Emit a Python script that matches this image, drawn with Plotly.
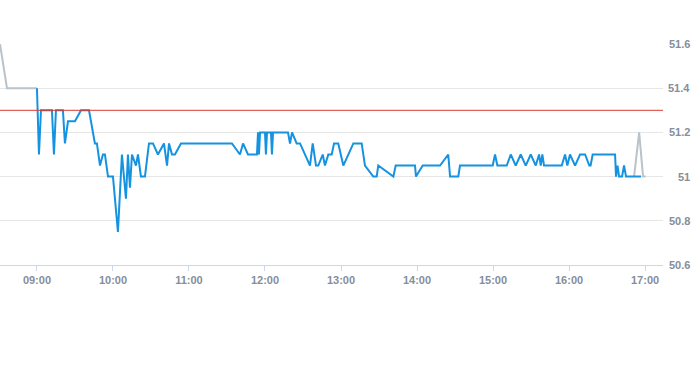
import plotly.graph_objects as go

DAY = "2024-01-02 "

pre_times = ["08:30:50", "08:36:20", "09:00:00"]
pre_values = [51.6, 51.4, 51.4]

main_times = [
    "09:00:00", "09:01:35", "09:03:10", "09:11:50", "09:13:25", "09:15:00", "09:20:30", "09:22:05",
    "09:24:30", "09:30:00", "09:34:45", "09:41:05", "09:45:45", "09:47:20", "09:49:45", "09:52:05",
    "09:53:40", "09:56:05", "10:00:00", "10:01:35", "10:03:55", "10:07:05", "10:10:15", "10:11:50",
    "10:13:25", "10:15:00", "10:18:10", "10:19:45", "10:22:05", "10:25:15", "10:28:25", "10:31:35",
    "10:35:30", "10:40:15", "10:42:40", "10:44:15", "10:46:35", "10:48:55", "10:53:40", "11:33:55",
    "11:40:15", "11:42:40", "11:46:35", "11:53:40", "11:54:30", "11:55:15", "11:56:05", "12:00:00",
    "12:00:45", "12:01:35", "12:04:45", "12:05:30", "12:06:20", "12:18:10", "12:19:45", "12:21:20",
    "12:25:00", "12:27:40", "12:35:30", "12:37:40", "12:40:15", "12:42:05", "12:45:35", "12:47:20",
    "12:50:00", "12:52:40", "12:54:30", "12:57:50", "13:01:50", "13:09:45", "13:16:20", "13:18:55",
    "13:25:30", "13:28:10", "13:29:25", "13:41:20", "13:43:10", "13:58:25", "13:59:10", "14:04:30",
    "14:18:10", "14:24:40", "14:26:05", "14:32:35", "14:33:55", "14:59:45", "15:01:35", "15:03:25",
    "15:10:50", "15:14:00", "15:17:55", "15:21:50", "15:25:50", "15:29:45", "15:33:45", "15:36:20",
    "15:37:40", "15:38:55", "15:40:15", "15:54:15", "15:56:50", "15:58:40", "16:00:45", "16:04:45",
    "16:08:40", "16:12:40", "16:16:00", "16:17:00", "16:18:40", "16:36:20", "16:37:05", "16:38:15",
    "16:39:30", "16:41:50", "16:43:25", "16:45:00", "16:56:50",
]
main_values = [
    51.4, 51.1, 51.3, 51.3, 51.1, 51.3, 51.3, 51.15,
    51.25, 51.25, 51.3, 51.3, 51.15, 51.15, 51.05, 51.1,
    51.1, 51.0, 51.0, 50.9, 50.75, 51.1, 50.9, 51.1,
    50.95, 51.1, 51.05, 51.1, 51.0, 51.0, 51.15, 51.15,
    51.1, 51.15, 51.05, 51.15, 51.1, 51.1, 51.15, 51.15,
    51.1, 51.15, 51.1, 51.1, 51.2, 51.1, 51.2, 51.2,
    51.1, 51.2, 51.2, 51.1, 51.2, 51.2, 51.15, 51.2,
    51.15, 51.15, 51.05, 51.15, 51.05, 51.05, 51.1, 51.05,
    51.1, 51.1, 51.15, 51.15, 51.05, 51.15, 51.15, 51.05,
    51.0, 51.0, 51.05, 51.0, 51.05, 51.05, 51.0, 51.05,
    51.05, 51.1, 51.0, 51.0, 51.05, 51.05, 51.1, 51.05,
    51.05, 51.1, 51.05, 51.1, 51.05, 51.1, 51.05, 51.1,
    51.05, 51.1, 51.05, 51.05, 51.1, 51.05, 51.1, 51.05,
    51.1, 51.1, 51.05, 51.05, 51.1, 51.1, 51.0, 51.05,
    51.0, 51.0, 51.05, 51.0, 51.0,
]

post_times = ["16:51:20", "16:55:20", "16:58:25", "17:00:25"]
post_values = [51.0, 51.2, 51.0, 51.0]

reference_level = 51.3

x_ticks = ["09:00", "10:00", "11:00", "12:00", "13:00", "14:00", "15:00", "16:00", "17:00"]
y_ticks = [50.6, 50.8, 51.0, 51.2, 51.4, 51.6]
y_tick_labels = ["50.6", "50.8", "51", "51.2", "51.4", "51.6"]

x_range = ["08:30:50", "17:14:10"]

LABEL_COLOR = "#858e9b"
FONT = "Liberation Sans"

fig = go.Figure()
fig.add_trace(go.Scatter(
    x=[DAY + t for t in pre_times], y=pre_values, mode="lines",
    line=dict(color="#b9c3cc", width=2), hoverinfo="skip", showlegend=False))
fig.add_trace(go.Scatter(
    x=[DAY + t for t in post_times], y=post_values, mode="lines",
    line=dict(color="#b9c3cc", width=2), hoverinfo="skip", showlegend=False))
fig.add_trace(go.Scatter(
    x=[DAY + t for t in main_times], y=main_values, mode="lines",
    line=dict(color="#1592e0", width=2), showlegend=False))

fig.add_shape(type="line", xref="paper", x0=0, x1=1, yref="y",
              y0=reference_level, y1=reference_level,
              line=dict(color="#d93a2f", width=1))

for v, lab in zip(y_ticks, y_tick_labels):
    fig.add_annotation(x=1, xref="paper", y=v, yref="y", text=lab,
                       xanchor="right", yanchor="middle", xshift=29,
                       showarrow=False,
                       font=dict(family=FONT, size=11, color=LABEL_COLOR, weight="bold"))

fig.update_layout(
    width=693, height=365,
    margin=dict(l=0, r=30, t=44, b=100),
    paper_bgcolor="white", plot_bgcolor="white",
    font=dict(family=FONT, size=11, color=LABEL_COLOR),
    xaxis=dict(
        type="date",
        range=[DAY + x_range[0], DAY + x_range[1]],
        tickmode="array",
        tickvals=[DAY + t for t in x_ticks],
        ticktext=x_ticks,
        showgrid=False, zeroline=False,
        showline=True, linecolor="#ccd6eb", linewidth=1,
        ticks="outside", ticklen=5, tickcolor="#ccd6eb",
        tickfont=dict(family=FONT, size=11, color=LABEL_COLOR, weight="bold"),
    ),
    yaxis=dict(
        range=[50.6, 51.6],
        tickmode="array", tickvals=y_ticks,
        showticklabels=False,
        showgrid=True, gridcolor="#e6e6e6", gridwidth=1,
        zeroline=False, showline=False,
        side="right",
    ),
)

fig.write_html("out.html", config={"displayModeBar": False},
               post_script="document.body.style.margin='0';")
